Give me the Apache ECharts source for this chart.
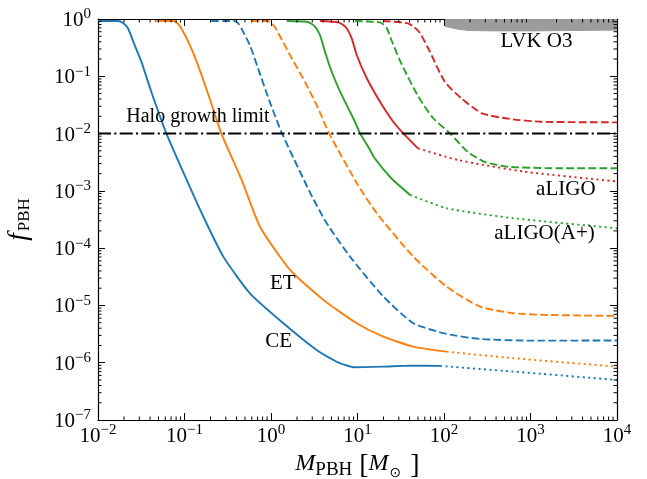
<!DOCTYPE html>
<html>
<head>
<meta charset="utf-8">
<script src="https://cdn.jsdelivr.net/npm/echarts@6/dist/echarts.min.js"></script>
<style>
html, body { margin: 0; padding: 0; background: #fff; }
#chart { width: 647px; height: 479px; }
</style>
</head>
<body>
<div id="chart"></div>
<script>
// tick labels (powers of ten)
const xTickExp = [-2, -1, 0, 1, 2, 3, 4];
const yTickExp = [-7, -6, -5, -4, -3, -2, -1, 0];

// CE (blue)
const ceSolidM = [0.01, 0.017, 0.0195, 0.0222, 0.0265, 0.0317, 0.0413, 0.0617, 0.106, 0.165, 0.281, 0.571, 1.39, 3.37, 5.75, 7.16, 8.93, 19.9, 40.5, 90];
const ceSolidF = [0.923, 0.923, 0.851, 0.689, 0.352, 0.180, 0.0538, 0.0101, 1.55e-3, 3.55e-4, 7.11e-5, 1.63e-5, 4.89e-6, 1.67e-6, 1.04e-6, 9.16e-7, 8.34e-7, 8.55e-7, 8.89e-7, 8.79e-7];
const ceDotM = [90, 632, 10000];
const ceDotF = [8.79e-7, 7.0e-7, 5.0e-7];
const ceDashM = [0.204, 0.380, 0.415, 0.454, 0.568, 0.708, 0.966, 1.34, 2.92, 4.41, 8.19, 19.9, 44.2, 107, 261, 986, 10000];
const ceDashF = [0.923, 0.923, 0.845, 0.689, 0.352, 0.138, 0.0360, 0.0101, 8.48e-4, 2.72e-4, 7.11e-5, 1.43e-5, 4.89e-6, 3.18e-6, 2.60e-6, 2.43e-6, 2.44e-6];

// ET (orange)
const etSolidM = [0.0452, 0.0736, 0.083, 0.0918, 0.115, 0.143, 0.195, 0.266, 0.458, 0.746, 1.66, 4.03, 9.79, 19.9, 44.2, 107];
const etSolidF = [0.923, 0.923, 0.845, 0.689, 0.352, 0.157, 0.0413, 0.0101, 1.55e-3, 2.37e-4, 4.17e-5, 1.25e-5, 4.89e-6, 2.85e-6, 1.91e-6, 1.56e-6];
const etDotM = [107, 632, 10000];
const etDotF = [1.56e-6, 1.2e-6, 8.55e-7];
const etDashM = [0.592, 0.923, 1.01, 1.11, 1.34, 1.66, 2.47, 3.49, 4.69, 10.1, 16.7, 44.2, 107, 261, 632, 1540, 10000];
const etDashF = [0.923, 0.923, 0.851, 0.725, 0.430, 0.235, 0.0795, 0.0280, 0.0101, 1.27e-3, 4.06e-4, 7.11e-5, 2.13e-5, 9.53e-6, 7.31e-6, 6.83e-6, 6.56e-6];

// aLIGO(A+) (green)
const apSolidM = [1.52, 2.59, 2.90, 3.23, 3.68, 4.21, 5.03, 6.56, 8.93, 10.7, 13.3, 15.8, 24.6, 40.5];
const apSolidF = [0.923, 0.897, 0.835, 0.734, 0.526, 0.269, 0.120, 0.0472, 0.0185, 0.0101, 5.9e-3, 3.71e-3, 1.66e-3, 8.48e-4];
const apDotM = [40.5, 107, 632, 10000];
const apDotF = [8.48e-4, 4.97e-4, 3.33e-4, 2.22e-4];
const apDashM = [9.36, 18.2, 20.0, 21.9, 25.7, 32.3, 50.0, 74.6, 117, 189, 298, 550, 2080, 10000];
const apDashF = [0.923, 0.875, 0.80, 0.683, 0.366, 0.164, 0.0453, 0.0187, 0.0101, 4.77e-3, 3.19e-3, 2.64e-3, 2.48e-3, 2.48e-3];

// aLIGO (red)
const alSolidM = [3.68, 6.00, 6.71, 7.50, 8.57, 9.79, 12.8, 18.2, 25.9, 33.8, 50.0];
const alSolidF = [0.923, 0.875, 0.80, 0.689, 0.460, 0.235, 0.0923, 0.0360, 0.0161, 0.0101, 5.53e-3];
const alDotM = [50.0, 145, 857, 10000];
const alDotF = [5.53e-3, 3.46e-3, 2.16e-3, 1.46e-3];
const alDashM = [19.7, 38.4, 45.0, 52.8, 68.9, 102, 157, 275, 579, 1320, 10000];
const alDashF = [0.923, 0.841, 0.725, 0.570, 0.265, 0.0805, 0.0418, 0.0226, 0.0180, 0.0161, 0.0157];

// halo growth limit and LVK O3 excluded region (lower edge)
const haloM = [0.01, 10000];
const haloF = [0.01, 0.01];
const lvkM = [103, 140, 190, 400, 1000, 3000, 10000];
const lvkF = [0.74, 0.67, 0.63, 0.62, 0.62, 0.63, 0.64];

// text annotations
const noteText = ['Halo growth limit', 'LVK O3', 'aLIGO', 'aLIGO(A+)', 'ET', 'CE'];
const noteM = [0.143, 1172, 2560, 1452, 1.37, 1.23];
const noteF = [0.020, 0.407, 1.04e-3, 1.81e-4, 2.37e-5, 2.37e-6];

const FONT = 'Liberation Serif';
const BLUE = '#1f77b4', ORANGE = '#ff7f0e', GREEN = '#2ca02c', RED = '#d62728';
const DASH = [7.7, 3.3], DOT = [2.1, 3.4], DASHDOT = [13, 3.3, 2.1, 3.3];

// minor tick positions 2..9 x 10^k
const xMinor = [], yMinor = [];
for (let k = -2; k < 4; k++) for (let j = 2; j < 10; j++) xMinor.push(j * Math.pow(10, k));
for (let k = -7; k < 0; k++) for (let j = 2; j < 10; j++) yMinor.push(j * Math.pow(10, k));

function pairs(ms, fs) {
    return ms.map(function (m, i) { return [m, fs[i]]; });
}

function curve(ms, fs, color, type) {
    return {
        type: 'line',
        data: pairs(ms, fs),
        symbol: 'none',
        smooth: 0.2,
        lineStyle: { color: color, width: 1.9, type: type },
        itemStyle: { color: color },
        silent: true,
        z: 3
    };
}

function powLabel(v) {
    const e = Math.round(Math.log10(v));
    return '{b|10}{s|' + (e < 0 ? '\u2212' + (-e) : e) + '}';
}

const tickRich = {
    b: { fontFamily: FONT, fontSize: 21, lineHeight: 24, verticalAlign: 'bottom', color: '#000' },
    s: { fontFamily: FONT, fontSize: 15, lineHeight: 12, verticalAlign: 'top', color: '#000' }
};

function logAxis(min, max, split, pos, labels) {
    return {
        type: 'log',
        logBase: 10,
        min: min,
        max: max,
        splitNumber: split,
        position: pos,
        axisLine: { show: true, onZero: false, lineStyle: { color: '#000', width: 1.2 } },
        axisTick: { show: true, inside: true, length: 7, lineStyle: { color: '#000', width: 1 } },
        splitLine: { show: false },
        minorTick: { show: false },
        axisLabel: {
            show: labels,
            showMinLabel: true,
            showMaxLabel: true,
            margin: pos === 'bottom' ? 3 : 7,
            formatter: powLabel,
            rich: tickRich
        }
    };
}

function minorTicks(values, isX) {
    return {
        type: 'custom',
        silent: true,
        z: 5,
        data: values.map(function (v) { return isX ? [v, 1] : [1, v]; }),
        renderItem: function (params, api) {
            const cs = params.coordSys;
            const p = api.coord([api.value(0), api.value(1)]);
            const st = { stroke: '#000', lineWidth: 1 };
            if (isX) {
                return { type: 'group', children: [
                    { type: 'line', shape: { x1: p[0], y1: cs.y + cs.height, x2: p[0], y2: cs.y + cs.height - 3.5 }, style: st },
                    { type: 'line', shape: { x1: p[0], y1: cs.y, x2: p[0], y2: cs.y + 3.5 }, style: st }
                ] };
            }
            return { type: 'group', children: [
                { type: 'line', shape: { x1: cs.x, y1: p[1], x2: cs.x + 3.5, y2: p[1] }, style: st },
                { type: 'line', shape: { x1: cs.x + cs.width, y1: p[1], x2: cs.x + cs.width - 3.5, y2: p[1] }, style: st }
            ] };
        }
    };
}

const xAxisMain = logAxis(0.01, 10000, 6, 'bottom', true);
xAxisMain.name = '{i|M}{s|PBH}{r|[}{i|M}{o|\u2299}{r|]}';
xAxisMain.nameLocation = 'middle';
xAxisMain.nameGap = 28;
xAxisMain.nameTextStyle = {
    rich: {
        i: { fontFamily: FONT, fontStyle: 'italic', fontSize: 24, lineHeight: 28, verticalAlign: 'top', color: '#000' },
        s: { fontFamily: FONT, fontSize: 19, lineHeight: 14, verticalAlign: 'bottom', color: '#000', padding: [0, 7, 0, 0] },
        o: { fontFamily: 'DejaVu Sans', fontSize: 14, lineHeight: 12, verticalAlign: 'bottom', color: '#000', padding: [0, 9, 0, 1] },
        r: { fontFamily: FONT, fontSize: 28, lineHeight: 26, verticalAlign: 'bottom', color: '#000' }
    }
};

const yAxisMain = logAxis(1e-7, 1, 7, 'left', true);
yAxisMain.name = '{i|f}{s|PBH}';
yAxisMain.nameLocation = 'middle';
yAxisMain.nameRotate = 90;
yAxisMain.nameGap = 65;
yAxisMain.nameTextStyle = {
    rich: {
        i: { fontFamily: FONT, fontStyle: 'italic', fontSize: 27, lineHeight: 28, verticalAlign: 'top', color: '#000', padding: [0, 2, 0, 0] },
        s: { fontFamily: FONT, fontSize: 17, lineHeight: 14, verticalAlign: 'bottom', color: '#000' }
    }
};

const notes = noteText.map(function (t, i) {
    return { name: t, value: [noteM[i], noteF[i]], label: { fontSize: i === 0 ? 20 : 21 } };
});

const chart = echarts.init(document.getElementById('chart'), null, { renderer: 'canvas' });
chart.setOption({
    animation: false,
    backgroundColor: '#fff',
    grid: { left: 98, right: 30, top: 19, bottom: 59, outerBoundsMode: 'none' },
    xAxis: [xAxisMain, logAxis(0.01, 10000, 6, 'top', false)],
    yAxis: [yAxisMain, logAxis(1e-7, 1, 7, 'right', false)],
    series: [
        {
            type: 'line',
            data: pairs(lvkM, lvkF),
            symbol: 'none',
            silent: true,
            lineStyle: { color: '#9c9c9c', width: 1 },
            areaStyle: { origin: 'end', color: '#9c9c9c', opacity: 1 },
            z: 1
        },
        {
            type: 'line',
            data: pairs(haloM, haloF),
            symbol: 'none',
            silent: true,
            lineStyle: { color: '#000', width: 1.9, type: DASHDOT },
            z: 4
        },
        curve(ceSolidM, ceSolidF, BLUE, 'solid'),
        curve(ceDotM, ceDotF, BLUE, DOT),
        curve(ceDashM, ceDashF, BLUE, DASH),
        curve(etSolidM, etSolidF, ORANGE, 'solid'),
        curve(etDotM, etDotF, ORANGE, DOT),
        curve(etDashM, etDashF, ORANGE, DASH),
        curve(apSolidM, apSolidF, GREEN, 'solid'),
        curve(apDotM, apDotF, GREEN, DOT),
        curve(apDashM, apDashF, GREEN, DASH),
        curve(alSolidM, alSolidF, RED, 'solid'),
        curve(alDotM, alDotF, RED, DOT),
        curve(alDashM, alDashF, RED, DASH),
        {
            type: 'scatter',
            data: notes,
            symbolSize: 0,
            silent: true,
            z: 6,
            itemStyle: { opacity: 1 },
            label: {
                show: true,
                position: 'inside',
                formatter: function (p) { return p.name; },
                fontFamily: FONT,
                color: '#000',
                opacity: 1
            }
        },
        minorTicks(xMinor, true),
        minorTicks(yMinor, false)
    ]
});
</script>
</body>
</html>
